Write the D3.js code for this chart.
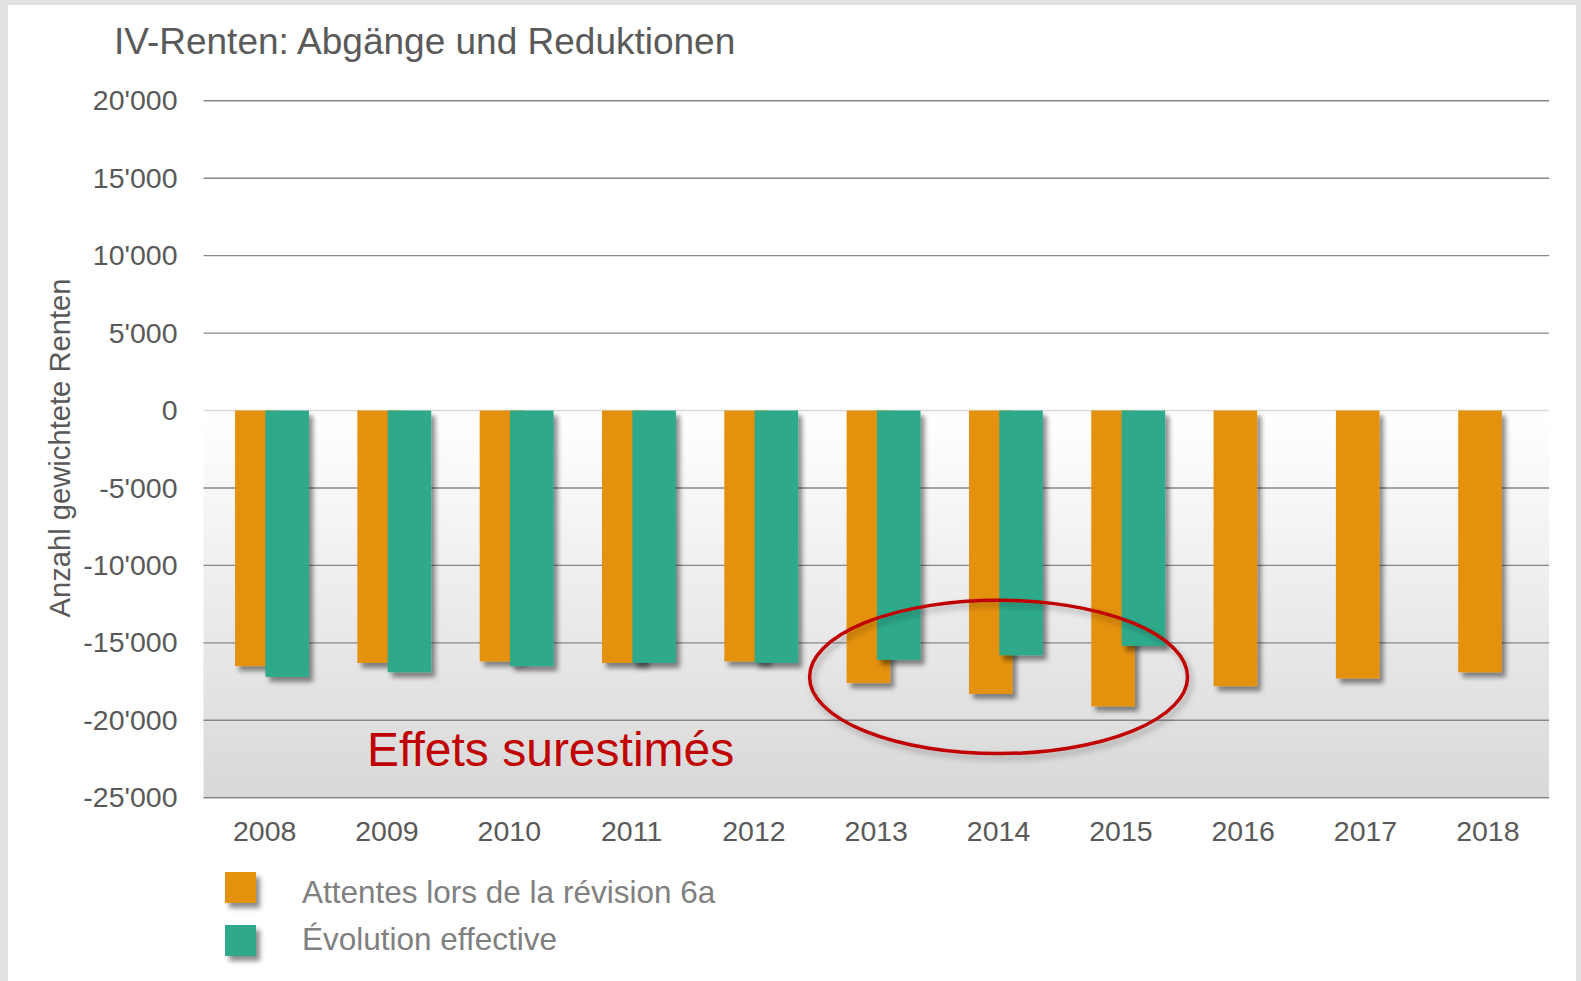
<!DOCTYPE html>
<meta charset="utf-8">
<script src="https://d3js.org/d3.v7.min.js"></script>
<style>
   body {
      margin: 0;
      padding: 0;
      background-color: #e2e2e2;
      font-family: "Liberation Sans", Arial, sans-serif;
   }
</style>
<body>
<svg id="chart" width="1581" height="981"></svg>
<script>

   // data
   var years = ["2008", "2009", "2010", "2011", "2012", "2013", "2014", "2015", "2016", "2017", "2018"];
   var expected = [-16500, -16300, -16200, -16300, -16200, -17600, -18300, -19100, -17800, -17300, -16900];
   var actual = [-17200, -16900, -16500, -16300, -16300, -16100, -15800, -15200, null, null, null];
   var yTicks = [20000, 15000, 10000, 5000, 0, -5000, -10000, -15000, -20000, -25000];
   var seriesNames = ["Attentes lors de la révision 6a", "Évolution effective"];
   var seriesColors = ["#e4910e", "#2daa8b"];

   var svg = d3.select("#chart"),
      width = +svg.attr("width"),
      height = +svg.attr("height");

   var plot = { left: 203.5, right: 1549, top: 100.8, bottom: 797.7 };

   var fmt = d3.formatLocale({ decimal: ".", thousands: "'", grouping: [3], currency: ["", ""], minus: "-" }).format(",");

   var x = d3.scaleBand()
      .domain(years)
      .range([plot.left, plot.right])
      .padding(0);

   var y = d3.scaleLinear()
      .domain([-25000, 20000])
      .range([plot.bottom, plot.top]);

   var bw = x.bandwidth();
   // the two bars overlap a little, as in the original
   var sub = d3.scalePoint().domain([0, 1]).range([bw * 0.258, bw * 0.506]);
   var barW = bw * 0.356;

   var defs = svg.append("defs");
   var grad = defs.append("linearGradient")
      .attr("id", "plotbg")
      .attr("x1", 0).attr("y1", 0).attr("x2", 0).attr("y2", 1);
   grad.append("stop").attr("offset", 0).attr("stop-color", "#ffffff");
   grad.append("stop").attr("offset", 0.45).attr("stop-color", "#ffffff");
   grad.append("stop").attr("offset", 1).attr("stop-color", "#d8d8d8");

   defs.append("filter")
      .attr("id", "shadow")
      .attr("x", "-20%").attr("y", "-20%").attr("width", "160%").attr("height", "160%")
      .append("feDropShadow")
      .attr("dx", 4).attr("dy", 5)
      .attr("stdDeviation", 2.5)
      .attr("flood-color", "#000")
      .attr("flood-opacity", 0.45);

   defs.append("filter")
      .attr("id", "shadowSoft")
      .attr("x", "-10%").attr("y", "-10%").attr("width", "130%").attr("height", "130%")
      .append("feDropShadow")
      .attr("dx", 3).attr("dy", 4)
      .attr("stdDeviation", 3)
      .attr("flood-color", "#000")
      .attr("flood-opacity", 0.3);

   // white panel
   svg.append("rect")
      .attr("x", 8).attr("y", 5)
      .attr("width", 1568).attr("height", height - 5)
      .attr("fill", "#ffffff");

   // plot area background
   svg.append("rect")
      .attr("x", plot.left).attr("y", plot.top)
      .attr("width", plot.right - plot.left)
      .attr("height", plot.bottom - plot.top)
      .attr("fill", "url(#plotbg)");

   // title
   svg.append("text")
      .attr("x", 114).attr("y", 54)
      .attr("font-size", 37)
      .attr("fill", "#5a5a5a")
      .text("IV-Renten: Abgänge und Reduktionen");

   // gridlines
   svg.append("g")
      .selectAll("line")
      .data(yTicks)
      .enter()
      .append("line")
      .attr("x1", plot.left).attr("x2", plot.right)
      .attr("y1", function (d) { return y(d) })
      .attr("y2", function (d) { return y(d) })
      .attr("stroke", function (d) { return d === 0 ? "#d9d9d9" : "#878787" })
      .attr("stroke-width", 1.4);

   // y axis labels
   var yAxis = svg.append("g")
      .attr("transform", "translate(" + (plot.left - 26) + ",0)")
      .call(d3.axisLeft(y).tickValues(yTicks).tickFormat(fmt).tickSize(0).tickPadding(0));
   yAxis.select(".domain").remove();
   yAxis.selectAll("text")
      .attr("font-family", "Liberation Sans, Arial, sans-serif")
      .attr("font-size", 28.5)
      .attr("fill", "#595959");

   svg.append("text")
      .attr("transform", "translate(70," + 448 + ") rotate(-90)")
      .attr("text-anchor", "middle")
      .attr("font-size", 29.2)
      .attr("fill", "#595959")
      .text("Anzahl gewichtete Renten");

   // x axis labels
   var xAxis = svg.append("g")
      .attr("transform", "translate(0," + (plot.bottom + 23) + ")")
      .call(d3.axisBottom(x).tickSize(0).tickPadding(0));
   xAxis.select(".domain").remove();
   xAxis.selectAll("text")
      .attr("font-family", "Liberation Sans, Arial, sans-serif")
      .attr("font-size", 28.5)
      .attr("fill", "#595959");

   // bars
   var series = [expected, actual];
   series.forEach(function (vals, s) {
      svg.append("g")
         .attr("filter", "url(#shadow)")
         .selectAll("rect")
         .data(years.map(function (yr, i) { return { year: yr, v: vals[i] } }).filter(function (d) { return d.v !== null }))
         .enter()
         .append("rect")
         .attr("x", function (d) { return x(d.year) + sub(s) })
         .attr("width", barW)
         .attr("y", function (d) { return y(Math.max(0, d.v)) })
         .attr("height", function (d) { return Math.abs(y(d.v) - y(0)) })
         .attr("fill", seriesColors[s]);
   });

   // annotation: ellipse around 2013-2015
   svg.append("ellipse")
      .attr("cx", x("2014") + bw / 2)
      .attr("cy", (y(-12250) + y(-22150)) / 2)
      .attr("rx", bw * 1.545)
      .attr("ry", (y(-22150) - y(-12250)) / 2)
      .attr("fill", "none")
      .attr("stroke", "#c00000")
      .attr("stroke-width", 3.5)
      .attr("filter", "url(#shadowSoft)");

   svg.append("text")
      .attr("x", 367).attr("y", 766)
      .attr("font-size", 48)
      .attr("fill", "#c00000")
      .text("Effets surestimés");

   // legend
   var legend = svg.append("g")
      .selectAll("g")
      .data(seriesNames)
      .enter()
      .append("g");

   legend.append("rect")
      .attr("x", 225)
      .attr("y", function (d, i) { return 872 + i * 53 })
      .attr("width", 31).attr("height", 31)
      .attr("fill", function (d, i) { return seriesColors[i] })
      .attr("filter", "url(#shadow)");

   legend.append("text")
      .attr("x", 302)
      .attr("y", function (d, i) { return 903 + i * 47 })
      .attr("font-size", 31.5)
      .attr("fill", "#808080")
      .text(function (d) { return d });

</script>
</body>
